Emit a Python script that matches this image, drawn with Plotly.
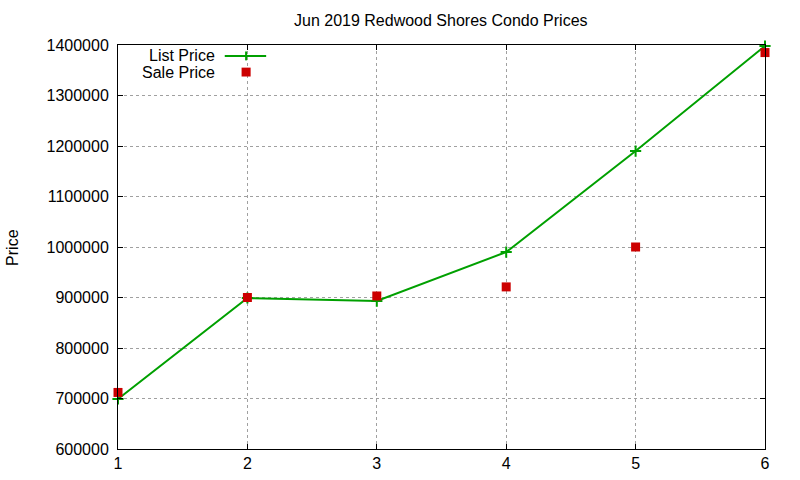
import plotly.graph_objects as go

# data
months = [1, 2, 3, 4, 5, 6]
list_price = [699000, 899000, 893000, 990000, 1190000, 1398000]
sale_price = [712000, 900000, 903000, 921000, 1000000, 1385000]
y_ticks = [600000, 700000, 800000, 900000, 1000000, 1100000, 1200000, 1300000, 1400000]

green = '#00a000'
red = '#cc0000'
font = 'Liberation Sans, Arial, sans-serif'

fig = go.Figure()
fig.add_trace(go.Scatter(
    x=months, y=list_price, name='List Price',
    mode='lines+markers', cliponaxis=False,
    line=dict(color=green, width=2),
    marker=dict(symbol='cross-thin', size=8, line=dict(color=green, width=2)),
))
fig.add_trace(go.Scatter(
    x=months, y=sale_price, name='Sale Price',
    mode='markers', cliponaxis=False,
    marker=dict(symbol='square', size=9, color=red),
))

axis_style = dict(
    showline=True, linecolor='black', linewidth=1, mirror='allticks',
    ticks='inside', ticklen=5, tickcolor='black',
    showgrid=True, gridcolor='#a0a0a0', griddash='dot', gridwidth=1,
    zeroline=False, automargin=False,
    tickfont=dict(size=16, color='black', family=font),
)
fig.update_xaxes(range=[1, 6], tickvals=months, **axis_style)
fig.update_yaxes(range=[600000, 1400000], tickvals=y_ticks,
                 ticktext=[str(v) for v in y_ticks], ticklabelstandoff=5, **axis_style)

# gnuplot-style legend: text on the left, sample on the right
legend_font = dict(size=16, color='black', family=font)
fig.add_annotation(x=0.153, y=0.973, xref='paper', yref='paper', text='List Price',
                   showarrow=False, xanchor='right', yanchor='middle', height=15,
                   font=legend_font)
fig.add_annotation(x=0.153, y=0.933, xref='paper', yref='paper', text='Sale Price',
                   showarrow=False, xanchor='right', yanchor='middle', height=15,
                   font=legend_font)
fig.add_shape(type='line', xref='paper', yref='paper', x0=0.165, x1=0.229, y0=0.973, y1=0.973,
              line=dict(color=green, width=2))
fig.add_shape(type='line', xref='paper', yref='paper', x0=0.198, x1=0.198, y0=0.962, y1=0.984,
              line=dict(color=green, width=2))
fig.add_shape(type='rect', xref='paper', yref='paper', x0=0.191, x1=0.205, y0=0.922, y1=0.944,
              line=dict(width=0), fillcolor=red)

fig.add_annotation(x=-0.164, y=0.5, xref='paper', yref='paper', text='Price', textangle=-90,
                   showarrow=False, xanchor='center', yanchor='middle', font=legend_font)

fig.update_layout(
    width=800, height=480,
    margin=dict(l=118, r=35, t=45, b=31),
    paper_bgcolor='white', plot_bgcolor='white',
    showlegend=False,
    title=dict(text='Jun 2019 Redwood Shores Condo Prices', x=0.551, xanchor='center',
               y=0.958, yanchor='middle', font=dict(size=16, color='black', family=font)),
    font=dict(family=font, color='black'),
)

fig.write_html('out.html', config={'displayModeBar': False},
               post_script="document.body.style.margin='0px';")
